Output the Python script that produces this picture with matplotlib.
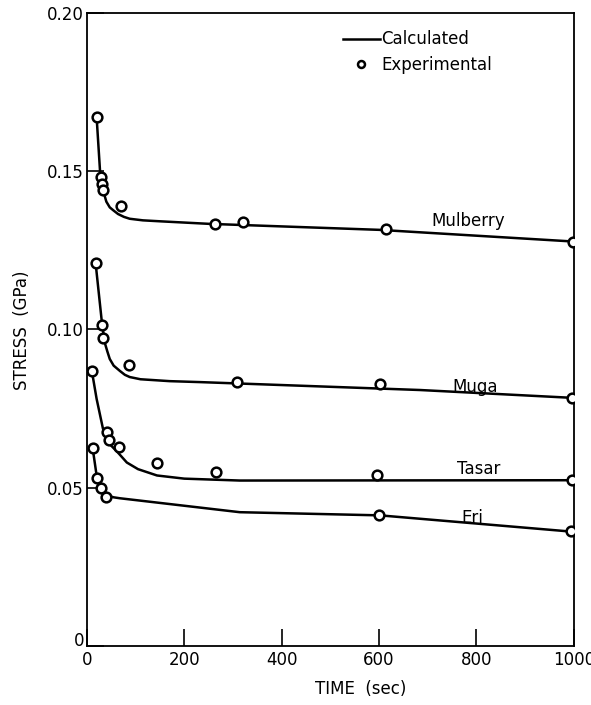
import matplotlib
matplotlib.use("Agg")
import matplotlib.pyplot as plt
from matplotlib.lines import Line2D
from matplotlib.transforms import ScaledTranslation

# Stress relaxation of silk fibres: measured points and fitted curves
mulberry_t = [20, 29, 31, 33, 70, 263, 320, 614, 998]
mulberry_s = [0.167, 0.148, 0.146, 0.144, 0.139, 0.1333, 0.134, 0.1318, 0.1277]
mulberry_fit_t = [20, 27, 33, 40, 47, 54, 64, 76, 88, 115, 150, 250, 600, 1000]
mulberry_fit_s = [0.167, 0.150, 0.144, 0.1403, 0.1385, 0.1376, 0.1364, 0.1355,
                  0.1349, 0.1344, 0.1341, 0.1333, 0.1314, 0.1277]

muga_t = [18, 31, 33, 86, 308, 602, 996]
muga_s = [0.1208, 0.1013, 0.0972, 0.0887, 0.0833, 0.0827, 0.0783]
muga_fit_t = [18, 31, 37, 42, 47, 55, 68, 78, 88, 110, 170, 232, 684, 1000]
muga_fit_s = [0.1208, 0.1019, 0.0956, 0.093, 0.0906, 0.0885, 0.0868, 0.0856,
              0.0849, 0.0842, 0.0836, 0.0833, 0.0808, 0.0783]

tasar_t = [10, 41, 45, 66, 144, 265, 596, 996]
tasar_s = [0.0868, 0.0676, 0.0651, 0.0629, 0.0579, 0.055, 0.054, 0.0525]
tasar_fit_t = [10, 13, 20, 33, 45, 64, 82, 105, 144, 200, 314, 1000]
tasar_fit_s = [0.0868, 0.0843, 0.078, 0.0686, 0.064, 0.061, 0.0579, 0.0558,
               0.0538, 0.0528, 0.0522, 0.0523]

eri_t = [12, 20, 30, 40, 600, 995]
eri_s = [0.0626, 0.0531, 0.0497, 0.0469, 0.0412, 0.0362]
eri_fit_t = [12, 20, 31, 41, 55, 68, 314, 602, 1000]
eri_fit_s = [0.0623, 0.0538, 0.0494, 0.0475, 0.0469, 0.0466, 0.0422, 0.0412, 0.036]

fibres = ["Mulberry", "Muga", "Tasar", "Eri"]
label_t = [708, 750, 760, 770]
label_s = [0.1327, 0.0803, 0.0544, 0.0388]

x_ticks = [0, 200, 400, 600, 800, 1000]
y_ticks = [0, 0.05, 0.10, 0.15, 0.20]
y_tick_labels = ["0", "0.05", "0.10", "0.15", "0.20"]

plt.rcParams["font.family"] = ["DejaVu Sans"]
plt.rcParams["font.size"] = 12

fig = plt.figure(figsize=(5.91, 7.05), dpi=100)
ax = fig.add_axes([0.147, 0.084, 0.824, 0.898])

series = [
    (mulberry_t, mulberry_s, mulberry_fit_t, mulberry_fit_s),
    (muga_t, muga_s, muga_fit_t, muga_fit_s),
    (tasar_t, tasar_s, tasar_fit_t, tasar_fit_s),
    (eri_t, eri_s, eri_fit_t, eri_fit_s),
]
for t, s, ft, fs in series:
    ax.plot(ft, fs, color="black", lw=1.8, solid_joinstyle="round", zorder=2)
    ax.plot(t, s, "o", ms=7, mfc="white", mec="black", mew=1.8, zorder=3)

for name, lt, ls in zip(fibres, label_t, label_s):
    ax.text(lt, ls, name, ha="left", va="baseline", fontsize=12)

ax.set_xlim(0, 1000)
ax.set_ylim(0, 0.20)
ax.set_xticks(x_ticks)
ax.set_yticks(y_ticks)
ax.set_yticklabels(y_tick_labels)
ax.tick_params(direction="in", length=12, width=1.2, labelsize=12)
ax.tick_params(axis="y", pad=2)
ax.tick_params(axis="x", pad=4)
for sp in ax.spines.values():
    sp.set_linewidth(1.3)

# lift the "0" on the stress axis clear of the time axis "0"
zero_lbl = ax.get_yticklabels()[0]
zero_lbl.set_transform(zero_lbl.get_transform()
                       + ScaledTranslation(0, 5 / 72, fig.dpi_scale_trans))

handles = [
    Line2D([], [], color="black", lw=1.8),
    Line2D([], [], ls="none", marker="o", ms=5, mfc="white", mec="black", mew=1.8),
]
ax.legend(handles, ["Calculated", "Experimental"], loc="upper left",
          bbox_to_anchor=(0.526, 0.972), frameon=False, handlelength=2.2,
          handletextpad=0.1, labelspacing=0.45, borderpad=0, borderaxespad=0,
          fontsize=12)

fig.text(0.611, 0.022, "TIME  (sec)", ha="center", va="center", fontsize=12)
fig.text(0.037, 0.532, "STRESS  (GPa)", ha="center", va="center",
         rotation=90, fontsize=12)

fig.savefig("out.png", dpi=100)
